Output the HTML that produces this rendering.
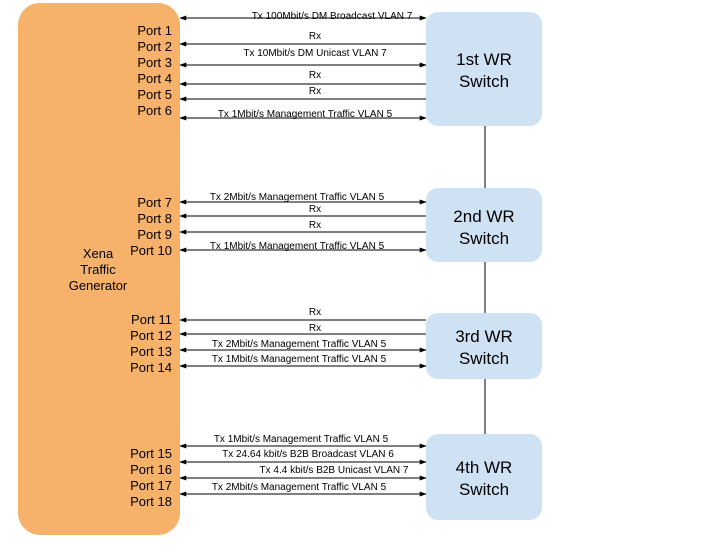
<!DOCTYPE html>
<html><head><style>body{margin:0;background:#fff}</style></head><body>
<svg width="720" height="540" xmlns="http://www.w3.org/2000/svg" font-family="Liberation Sans, sans-serif">
<defs>
<marker id="a" viewBox="0 0 10 10" refX="9" refY="5" markerWidth="8" markerHeight="7" orient="auto-start-reverse"><path d="M0,1.5L10,5L0,8.5z" fill="#000"/></marker>
</defs>
<rect x="18" y="3" width="162" height="532" rx="22" fill="#f6b26b"/>
<g fill="#cfe2f3">
<rect x="426" y="12" width="116" height="114" rx="12"/>
<rect x="426" y="188" width="116" height="74" rx="12"/>
<rect x="426" y="313" width="116" height="66" rx="12"/>
<rect x="426" y="434" width="116" height="86" rx="12"/>
</g>
<g stroke="#000" stroke-width="1">
<line x1="485" y1="126" x2="485" y2="188"/>
<line x1="485" y1="262" x2="485" y2="313"/>
<line x1="485" y1="379" x2="485" y2="434"/>
</g>
<g stroke="#000" stroke-width="1">
<line x1="180" y1="18" x2="426" y2="18" marker-start="url(#a)" marker-end="url(#a)"/>
<line x1="180" y1="44" x2="426" y2="44" marker-start="url(#a)"/>
<line x1="180" y1="65" x2="426" y2="65" marker-start="url(#a)" marker-end="url(#a)"/>
<line x1="180" y1="84" x2="426" y2="84" marker-start="url(#a)"/>
<line x1="180" y1="99" x2="426" y2="99" marker-start="url(#a)"/>
<line x1="180" y1="118" x2="426" y2="118" marker-start="url(#a)" marker-end="url(#a)"/>
<line x1="180" y1="202" x2="426" y2="202" marker-start="url(#a)" marker-end="url(#a)"/>
<line x1="180" y1="216" x2="426" y2="216" marker-start="url(#a)"/>
<line x1="180" y1="232" x2="426" y2="232" marker-start="url(#a)"/>
<line x1="180" y1="250" x2="426" y2="250" marker-start="url(#a)" marker-end="url(#a)"/>
<line x1="180" y1="320" x2="426" y2="320" marker-start="url(#a)"/>
<line x1="180" y1="334" x2="426" y2="334" marker-start="url(#a)"/>
<line x1="180" y1="350" x2="426" y2="350" marker-start="url(#a)" marker-end="url(#a)"/>
<line x1="180" y1="366" x2="426" y2="366" marker-start="url(#a)" marker-end="url(#a)"/>
<line x1="180" y1="446" x2="426" y2="446" marker-start="url(#a)" marker-end="url(#a)"/>
<line x1="180" y1="462" x2="426" y2="462" marker-start="url(#a)" marker-end="url(#a)"/>
<line x1="180" y1="478" x2="426" y2="478" marker-start="url(#a)" marker-end="url(#a)"/>
<line x1="180" y1="494" x2="426" y2="494" marker-start="url(#a)" marker-end="url(#a)"/>
</g>
<g font-size="10" text-anchor="middle" fill="#000">
<text x="332" y="19">Tx 100Mbit/s DM Broadcast VLAN 7</text>
<text x="315" y="39">Rx</text>
<text x="315" y="56">Tx 10Mbit/s DM Unicast VLAN 7</text>
<text x="315" y="78">Rx</text>
<text x="315" y="94">Rx</text>
<text x="305" y="117">Tx 1Mbit/s Management Traffic VLAN 5</text>
<text x="297" y="200">Tx 2Mbit/s Management Traffic VLAN 5</text>
<text x="315" y="212">Rx</text>
<text x="315" y="228">Rx</text>
<text x="297" y="249">Tx 1Mbit/s Management Traffic VLAN 5</text>
<text x="315" y="315">Rx</text>
<text x="315" y="331">Rx</text>
<text x="299" y="347">Tx 2Mbit/s Management Traffic VLAN 5</text>
<text x="299" y="362">Tx 1Mbit/s Management Traffic VLAN 5</text>
<text x="301" y="442">Tx 1Mbit/s Management Traffic VLAN 5</text>
<text x="308" y="457">Tx 24.64 kbit/s B2B Broadcast VLAN 6</text>
<text x="334" y="473">Tx 4.4 kbit/s B2B Unicast VLAN 7</text>
<text x="299" y="490">Tx 2Mbit/s Management Traffic VLAN 5</text>
</g>
<g font-size="13" text-anchor="end" fill="#000">
<text x="172" y="35">Port 1</text><text x="172" y="51">Port 2</text><text x="172" y="67">Port 3</text>
<text x="172" y="83">Port 4</text><text x="172" y="99">Port 5</text><text x="172" y="115">Port 6</text>
<text x="172" y="207">Port 7</text><text x="172" y="223">Port 8</text><text x="172" y="239">Port 9</text><text x="172" y="255">Port 10</text>
<text x="172" y="324">Port 11</text><text x="172" y="340">Port 12</text><text x="172" y="356">Port 13</text><text x="172" y="372">Port 14</text>
<text x="172" y="458">Port 15</text><text x="172" y="474">Port 16</text><text x="172" y="490">Port 17</text><text x="172" y="506">Port 18</text>
</g>
<g font-size="13" text-anchor="middle">
<text x="98" y="258">Xena</text><text x="98" y="274">Traffic</text><text x="98" y="290">Generator</text>
</g>
<g font-size="17" text-anchor="middle">
<text x="484" y="65">1st WR</text><text x="484" y="87">Switch</text>
<text x="484" y="222">2nd WR</text><text x="484" y="244">Switch</text>
<text x="484" y="342">3rd WR</text><text x="484" y="364">Switch</text>
<text x="484" y="473">4th WR</text><text x="484" y="495">Switch</text>
</g>
</svg>
</body></html>
